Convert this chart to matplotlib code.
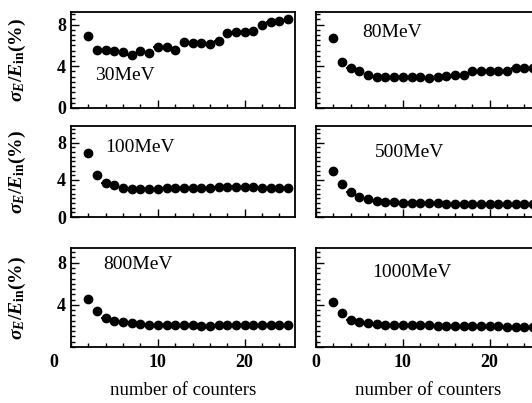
import numpy as np
import matplotlib.pyplot as plt
from matplotlib.ticker import MultipleLocator

plt.rcParams['font.family'] = ['Liberation Serif', 'DejaVu Serif']
plt.rcParams['mathtext.fontset'] = 'custom'
plt.rcParams['mathtext.rm'] = 'Liberation Serif:bold'
plt.rcParams['mathtext.it'] = 'Liberation Serif:bold:italic'
plt.rcParams['mathtext.bf'] = 'Liberation Serif:bold'

# -----------------------------
# DATA
# -----------------------------
counters = list(range(2, 26))

res_30 = [6.9, 5.6, 5.6, 5.5, 5.4, 5.1, 5.5, 5.3, 5.8, 5.8, 5.6, 6.3, 6.2, 6.2,
          6.1, 6.4, 7.2, 7.3, 7.3, 7.4, 8.0, 8.2, 8.3, 8.5]
res_80 = [6.7, 4.4, 3.8, 3.5, 3.2, 3.0, 3.0, 3.0, 3.0, 3.0, 3.0, 2.9, 3.0, 3.1,
          3.2, 3.2, 3.5, 3.5, 3.5, 3.5, 3.5, 3.8, 3.8, 3.8]
res_100 = [6.9, 4.5, 3.7, 3.4, 3.1, 3.0, 3.0, 3.0, 3.0, 3.1, 3.1, 3.1, 3.1, 3.1,
           3.1, 3.2, 3.2, 3.2, 3.2, 3.2, 3.1, 3.1, 3.1, 3.1]
res_500 = [5.0, 3.6, 2.7, 2.2, 1.9, 1.7, 1.6, 1.6, 1.5, 1.5, 1.5, 1.5, 1.5, 1.4,
           1.4, 1.4, 1.4, 1.4, 1.4, 1.4, 1.4, 1.4, 1.4, 1.4]
res_800 = [4.6, 3.4, 2.8, 2.5, 2.4, 2.3, 2.2, 2.1, 2.1, 2.1, 2.1, 2.1, 2.1, 2.0,
           2.0, 2.1, 2.1, 2.1, 2.1, 2.1, 2.1, 2.1, 2.1, 2.1]
res_1000 = [4.3, 3.2, 2.6, 2.4, 2.3, 2.2, 2.1, 2.1, 2.1, 2.1, 2.1, 2.1, 2.0, 2.0,
            2.0, 2.0, 2.0, 2.0, 2.0, 2.0, 1.9, 1.9, 1.9, 1.9]

panels = [("30MeV", res_30), ("80MeV", res_80),
          ("100MeV", res_100), ("500MeV", res_500),
          ("800MeV", res_800), ("1000MeV", res_1000)]

# label position per panel (data coords)
label_pos = [(2.8, 3.1), (5.3, 7.2), (3.9, 7.5), (6.8, 6.9), (3.7, 7.8), (6.5, 7.1)]

# -----------------------------
# LAYOUT (pixels of the 532x403 picture)
# -----------------------------
W, H = 532, 403
col_x = [71, 316]
col_w = 224
rows = [(12, 108), (126, 217), (248, 347)]
row_ymax = [9.2, 9.8, 9.4]

fig = plt.figure(figsize=(W / 100, H / 100), dpi=100)

for k, (name, vals) in enumerate(panels):
    r, c = divmod(k, 2)
    top, bot = rows[r]
    ax = fig.add_axes([col_x[c] / W, 1 - bot / H, col_w / W, (bot - top) / H])
    ax.errorbar(counters, vals, xerr=0.5, fmt='o', color='black', ms=6,
                elinewidth=1.3, capsize=0)
    ax.set_xlim(0, 25.8)
    ax.set_ylim(0, row_ymax[r])
    ax.xaxis.set_major_locator(MultipleLocator(10))
    ax.xaxis.set_minor_locator(MultipleLocator(2))
    ax.yaxis.set_major_locator(MultipleLocator(4))
    ax.yaxis.set_minor_locator(MultipleLocator(0.5))
    ax.tick_params(which='both', direction='in', top=False, right=False, width=1.0)
    ax.tick_params(which='major', length=6)
    ax.tick_params(which='minor', length=3)
    for s in ax.spines.values():
        s.set_linewidth(1.3)
    ax.tick_params(labelsize=13)
    ax.tick_params(axis='x', pad=5)
    for lab in ax.get_xticklabels() + ax.get_yticklabels():
        lab.set_fontweight('bold')

    if c == 0:
        ax.set_ylabel(r'$\sigma_E/E_{\rm in}$(%)', fontsize=14, fontweight='bold')
        ax.yaxis.set_label_coords(-0.19, 0.5)
    else:
        ax.set_yticklabels([])

    if r == 2:
        ax.set_xlabel('number of counters', fontsize=13.5, labelpad=8)
        if c == 0:
            ax.set_yticks([4, 8])
            ax.set_xticks([10, 20])
            ax.text(-1.95, -0.07, '0', transform=ax.get_xaxis_transform(),
                    ha='center', va='top', fontsize=13, fontweight='bold')
    else:
        ax.set_xticklabels([])

    ax.text(label_pos[k][0], label_pos[k][1], name, fontsize=14, ha='left', va='center')

fig.savefig('out.png', dpi=100)
